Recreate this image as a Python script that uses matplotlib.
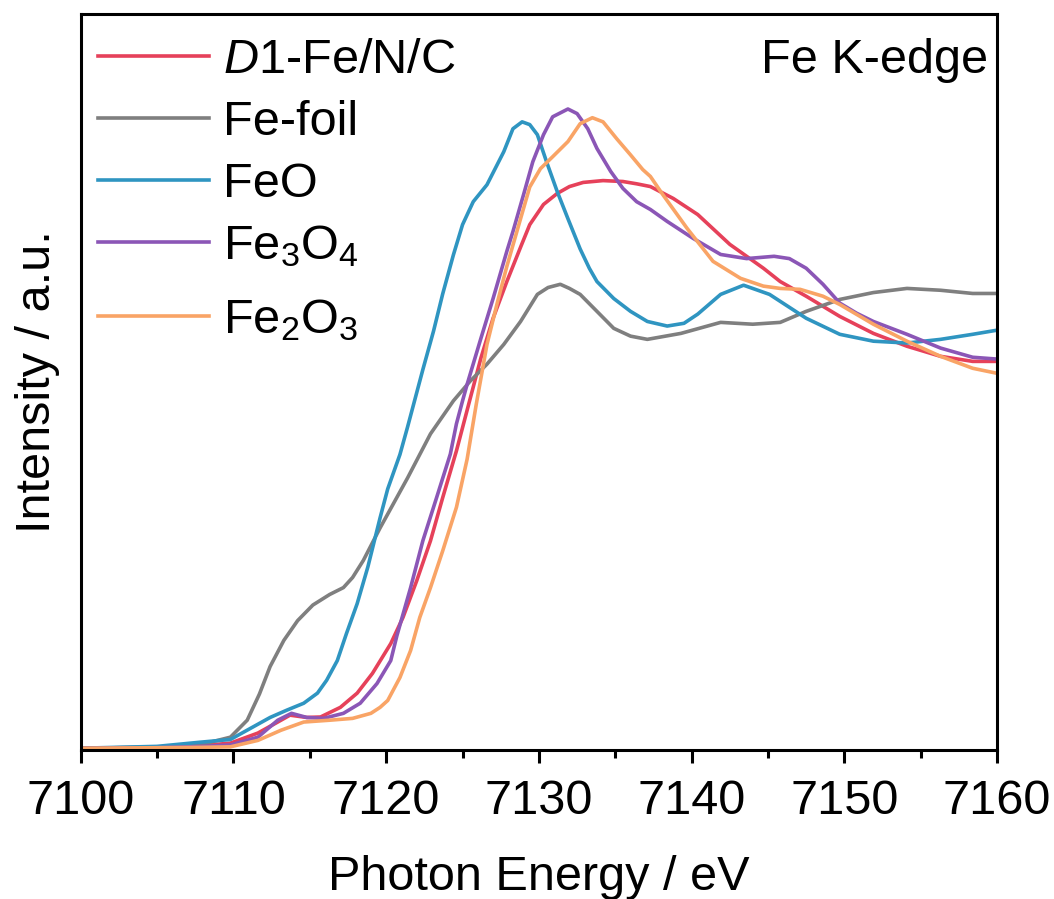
import numpy as np
import matplotlib
matplotlib.use('Agg')
import matplotlib.pyplot as plt
from matplotlib.lines import Line2D
from matplotlib.ticker import MultipleLocator

plt.rcParams['font.family'] = ['Liberation Sans', 'DejaVu Sans']
plt.rcParams['mathtext.fontset'] = 'custom'
plt.rcParams['mathtext.rm'] = 'Liberation Sans'
plt.rcParams['mathtext.it'] = 'Liberation Sans:italic'

# normalised XANES, values
e_d1 = [7100, 7105, 7108, 7109.8, 7111.6, 7112.9, 7113.7, 7114.8, 7115.7, 7117.0, 7118.1, 7119.1,
        7120.3, 7121.1, 7122.0, 7122.9, 7123.7, 7124.6, 7125.5, 7126.2, 7127.0, 7127.9, 7128.8,
        7129.4, 7130.3, 7131.2, 7132.0, 7132.9, 7134.2, 7135.5, 7136.4, 7137.3, 7138.8, 7140.4,
        7142.5, 7144.7, 7145.8, 7147.5, 7149.7, 7151.9, 7154.1, 7156.3, 7158.4, 7160]
mu_d1 = [0.000, 0.002, 0.006, 0.011, 0.033, 0.057, 0.072, 0.067, 0.068, 0.089, 0.120, 0.163,
         0.228, 0.285, 0.365, 0.452, 0.546, 0.648, 0.762, 0.850, 0.937, 1.017, 1.092,
         1.141, 1.185, 1.209, 1.224, 1.233, 1.237, 1.235, 1.230, 1.224, 1.198, 1.163,
         1.098, 1.046, 1.017, 0.985, 0.941, 0.904, 0.876, 0.854, 0.843, 0.843]

e_foil = [7100, 7105, 7108, 7109.8, 7110.9, 7111.7, 7112.4, 7113.3, 7114.2, 7115.2, 7116.3, 7117.2,
          7117.8, 7118.5, 7119.6, 7121.4, 7122.9, 7124.4, 7125.5, 7126.6, 7127.7, 7128.8, 7129.9,
          7130.6, 7131.4, 7132.0, 7132.7, 7133.8, 7134.9, 7136.0, 7137.1, 7139.3, 7141.9, 7144.0,
          7145.8, 7147.5, 7149.7, 7151.9, 7154.1, 7156.3, 7158.4, 7160]
mu_foil = [0.000, 0.002, 0.009, 0.024, 0.061, 0.118, 0.178, 0.235, 0.278, 0.312, 0.335, 0.350,
           0.372, 0.409, 0.480, 0.589, 0.685, 0.757, 0.800, 0.837, 0.880, 0.930, 0.989,
           1.004, 1.011, 1.002, 0.989, 0.952, 0.915, 0.898, 0.891, 0.904, 0.928, 0.924,
           0.928, 0.952, 0.978, 0.993, 1.002, 0.998, 0.991, 0.991]

e_feo = [7100, 7105, 7107.8, 7109.8, 7111.1, 7112.4, 7113.5, 7114.6, 7115.5, 7116.1, 7116.8, 7117.4,
         7118.1, 7118.8, 7119.6, 7120.1, 7120.9, 7121.4, 7121.8, 7122.4, 7123.1, 7123.7, 7124.4,
         7125.0, 7125.7, 7126.6, 7127.7, 7128.3, 7128.9, 7129.4, 7129.9, 7130.5, 7131.2, 7131.9,
         7132.7, 7133.3, 7133.8, 7134.9, 7136.0, 7137.1, 7138.4, 7139.5, 7140.4, 7141.9, 7143.4,
         7145.1, 7147.5, 7149.7, 7151.9, 7154.1, 7156.3, 7158.4, 7160]
mu_feo = [0.000, 0.004, 0.013, 0.019, 0.043, 0.067, 0.083, 0.098, 0.120, 0.148, 0.191, 0.250,
          0.315, 0.395, 0.502, 0.565, 0.640, 0.700, 0.750, 0.825, 0.909, 0.990, 1.075,
          1.141, 1.191, 1.228, 1.300, 1.350, 1.365, 1.359, 1.337, 1.278, 1.213, 1.154,
          1.088, 1.046, 1.017, 0.980, 0.952, 0.930, 0.920, 0.926, 0.946, 0.989, 1.009,
          0.989, 0.937, 0.902, 0.887, 0.883, 0.891, 0.902, 0.911]

e_fe3o4 = [7100, 7105, 7108, 7109.8, 7111.6, 7112.9, 7113.8, 7114.8, 7115.9, 7117.2, 7118.3, 7119.4,
           7120.3, 7120.7, 7121.6, 7122.4, 7123.3, 7124.2, 7124.6, 7125.0, 7125.3, 7126.2, 7127.0,
           7127.9, 7128.3, 7129.0, 7129.6, 7130.3, 7130.9, 7131.9, 7132.5, 7133.2, 7133.8, 7134.7,
           7135.5, 7136.4, 7137.3, 7138.4, 7140.1, 7141.9, 7143.6, 7145.4, 7146.4, 7147.5, 7148.6,
           7149.7, 7150.8, 7151.9, 7154.1, 7156.3, 7158.4, 7160]
mu_fe3o4 = [0.000, 0.001, 0.004, 0.007, 0.024, 0.061, 0.076, 0.067, 0.065, 0.076, 0.098, 0.141,
            0.191, 0.245, 0.350, 0.452, 0.546, 0.641, 0.707, 0.757, 0.793, 0.893, 0.980,
            1.083, 1.126, 1.207, 1.278, 1.337, 1.376, 1.393, 1.383, 1.350, 1.307, 1.257,
            1.220, 1.191, 1.174, 1.148, 1.111, 1.076, 1.067, 1.072, 1.067, 1.046, 1.011,
            0.970, 0.948, 0.930, 0.902, 0.872, 0.852, 0.848]

e_fe2o3 = [7100, 7105, 7108, 7109.8, 7111.6, 7113.1, 7114.6, 7116.3, 7117.8, 7119.0, 7119.6, 7120.1,
           7120.9, 7121.6, 7122.2, 7122.9, 7123.7, 7124.6, 7125.3, 7125.9, 7126.6, 7127.3, 7127.9,
           7128.8, 7129.4, 7130.1, 7130.9, 7131.9, 7132.7, 7133.5, 7134.2, 7135.1, 7136.0, 7136.8,
           7137.3, 7138.1, 7139.7, 7141.4, 7143.2, 7144.7, 7145.8, 7147.1, 7148.6, 7149.7, 7151.9,
           7154.1, 7156.3, 7158.4, 7160]
mu_fe2o3 = [0.000, 0.001, 0.002, 0.003, 0.017, 0.039, 0.057, 0.061, 0.065, 0.076, 0.089, 0.104,
            0.154, 0.213, 0.285, 0.350, 0.430, 0.525, 0.630, 0.750, 0.880, 0.974, 1.050,
            1.154, 1.223, 1.263, 1.289, 1.322, 1.361, 1.374, 1.365, 1.328, 1.293, 1.261,
            1.246, 1.207, 1.133, 1.061, 1.024, 1.007, 1.002, 1.000, 0.985, 0.967, 0.924,
            0.887, 0.854, 0.828, 0.817]

labels = [r'$\mathit{D}$1-Fe/N/C', 'Fe-foil', 'FeO', r'Fe$_3$O$_4$', r'Fe$_2$O$_3$']
colors = ['#E6415A', '#7F7F7F', '#2F95C1', '#8B56B6', '#F9A466']

fs = 35
fig = plt.figure(figsize=(10.54, 8.99), dpi=100)
ax = fig.add_axes([0.0766, 0.1657, 0.8694, 0.8187])

series = [(e_d1, mu_d1), (e_foil, mu_foil), (e_feo, mu_feo), (e_fe3o4, mu_fe3o4), (e_fe2o3, mu_fe2o3)]
for (e, mu), c in zip(series, colors):
    ax.plot(e, mu, color=c, lw=2.6, solid_joinstyle='round', solid_capstyle='round')

ax.set_xlim(7100, 7160)
ax.set_ylim(-0.004, 1.6)
ax.xaxis.set_major_locator(MultipleLocator(10))
ax.xaxis.set_minor_locator(MultipleLocator(5))
ax.set_yticks([])
ax.tick_params(axis='x', which='major', direction='out', length=9.5, width=2.2, labelsize=fs, pad=11)
ax.tick_params(axis='x', which='minor', direction='out', length=5.5, width=2.2)
for s in ax.spines.values():
    s.set_linewidth(2.2)

ax.set_xlabel('Photon Energy / eV', fontsize=fs, labelpad=23)
ax.set_ylabel('Intensity / a.u.', fontsize=fs, labelpad=15)

ax.text(0.990, 0.920, 'Fe K-edge', transform=ax.transAxes, fontsize=fs, ha='right', va='baseline')

# legend drawn by hand so the rows sit where the reference has them
row_line = [0.9429, 0.8587, 0.7745, 0.6902, 0.5897]
row_text = [0.9198, 0.8356, 0.7514, 0.6671, 0.5666]
for lab, c, yl, yt in zip(labels, colors, row_line, row_text):
    ax.add_line(Line2D([0.0189, 0.140], [yl, yl], transform=ax.transAxes, color=c, lw=2.6))
    ax.text(0.1553, yt, lab, transform=ax.transAxes, fontsize=fs, ha='left', va='baseline')

fig.savefig('out.png', dpi=100)
